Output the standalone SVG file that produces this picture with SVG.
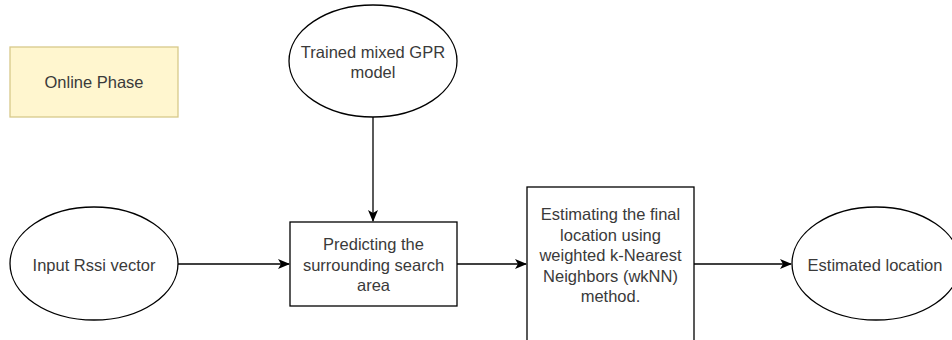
<svg xmlns="http://www.w3.org/2000/svg" width="952" height="340" viewBox="0 0 952 340">
<defs>
<style>
.shape{fill:#ffffff;stroke:#000000;stroke-width:1.3}
.note{fill:#fff6cf;stroke:#d8c98a;stroke-width:1.3}
.lbl{font-family:"Liberation Sans",Arial,sans-serif;font-size:16.5px;fill:#3a3a3a;text-anchor:middle}
.edge{fill:none;stroke:#000000;stroke-width:1.3}
</style>
<marker id="arrow" viewBox="0 0 12 10" refX="11" refY="5" markerWidth="12" markerHeight="10" markerUnits="userSpaceOnUse" orient="auto">
<path d="M0,0 L12,5 L0,10 L3,5 Z" fill="#000000"/>
</marker>
</defs>
<rect width="952" height="340" fill="#ffffff"/>
<g id="online-phase">
<rect class="note" x="10" y="47" width="168" height="70"/>
<text class="lbl" x="94" y="88">Online Phase</text>
</g>
<g id="gpr-model">
<ellipse class="shape" cx="373" cy="61" rx="84" ry="56"/>
<text class="lbl" x="373" y="58">Trained mixed GPR</text>
<text class="lbl" x="373" y="77.5">model</text>
</g>
<g id="input-rssi">
<ellipse class="shape" cx="94" cy="263.5" rx="84" ry="56.5"/>
<text class="lbl" x="94" y="271">Input Rssi vector</text>
</g>
<g id="predict-area">
<rect class="shape" x="290" y="222" width="167" height="84"/>
<text class="lbl" x="373.5" y="250">Predicting the</text>
<text class="lbl" x="373.5" y="270.5">surrounding search</text>
<text class="lbl" x="373.5" y="291">area</text>
</g>
<g id="estimate-final">
<rect class="shape" x="527" y="187" width="167" height="170"/>
<text class="lbl" x="610.5" y="220">Estimating the final</text>
<text class="lbl" x="610.5" y="240.5">location using</text>
<text class="lbl" x="610.5" y="261">weighted k-Nearest</text>
<text class="lbl" x="610.5" y="281.5">Neighbors (wkNN)</text>
<text class="lbl" x="610.5" y="302">method.</text>
</g>
<g id="estimated-location">
<ellipse class="shape" cx="876" cy="263.5" rx="84" ry="56.5"/>
<text class="lbl" x="875" y="271">Estimated location</text>
</g>
<g id="connectors">
<line class="edge" x1="373" y1="117" x2="373" y2="221" marker-end="url(#arrow)"/>
<line class="edge" x1="178" y1="264" x2="289" y2="264" marker-end="url(#arrow)"/>
<line class="edge" x1="457" y1="264" x2="526" y2="264" marker-end="url(#arrow)"/>
<line class="edge" x1="694" y1="264" x2="791" y2="264" marker-end="url(#arrow)"/>
</g>
</svg>
